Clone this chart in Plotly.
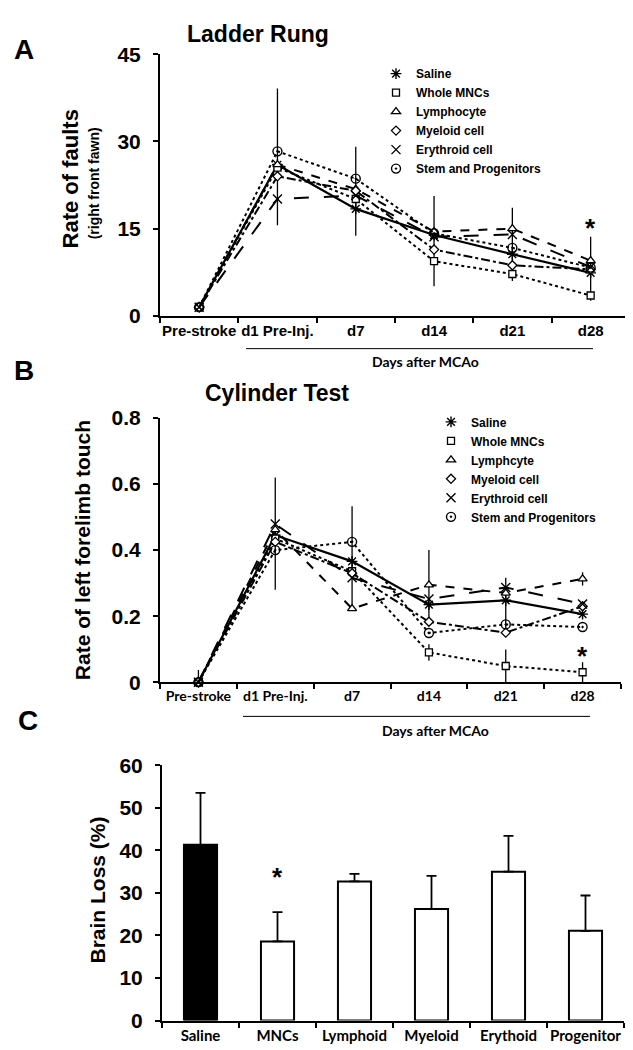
import plotly.graph_objects as go

# ---------------- data ----------------
categories = ["Pre-stroke", "d1 Pre-Inj.", "d7", "d14", "d21", "d28"]

names_A = ["Saline", "Whole MNCs", "Lymphocyte", "Myeloid cell", "Erythroid cell", "Stem and Progenitors"]
names_B = ["Saline", "Whole MNCs", "Lymphcyte", "Myeloid cell", "Erythroid cell", "Stem and Progenitors"]

saline_A = [1.5, 26.0, 18.4, 13.9, 10.6, 7.4]
mncs_A = [1.5, 25.5, 20.1, 9.4, 7.2, 3.5]
lymph_A = [1.5, 26.0, 21.8, 14.5, 15.0, 9.5]
myeloid_A = [1.5, 24.0, 21.5, 11.4, 8.7, 8.0]
erythroid_A = [1.5, 20.1, 20.7, 13.6, 14.0, 8.4]
stem_A = [1.5, 28.3, 23.6, 14.2, 11.7, 8.3]
err_A_plus = [0, 13.1, 10.7, 6.7, 8.0, 6.2]
err_A_minus = [0, 10.4, 4.6, 8.8, 4.6, 4.8]

saline_B = [0, 0.445, 0.366, 0.235, 0.248, 0.206]
mncs_B = [0, 0.435, 0.336, 0.090, 0.049, 0.030]
lymph_B = [0, 0.462, 0.223, 0.295, 0.270, 0.313]
myeloid_B = [0, 0.425, 0.330, 0.183, 0.150, 0.230]
erythroid_B = [0, 0.479, 0.316, 0.252, 0.287, 0.237]
stem_B = [0, 0.400, 0.425, 0.149, 0.175, 0.167]
err_B_plus = [0.037, 0.175, 0.167, 0.165, 0.068, 0.0]
err_B_minus = [0, 0.165, 0.142, 0.065, 0.109, 0.0]
err_B_mncs = [0, 0, 0, 0.025, 0.05, 0.03]
err_B_lymph = [0, 0, 0, 0, 0, 0.02]

groups_C = ["Saline", "MNCs", "Lymphoid", "Myeloid", "Erythoid", "Progenitor"]
loss_C = [41.3, 18.6, 32.7, 26.2, 35.0, 21.1]
err_C = [12.2, 6.9, 1.8, 7.8, 8.4, 8.3]

star_A = 16.2
star_B = 0.096
star_C = 35.2

# ---------------- styles ----------------
W, H = 633, 1050
FONT = "Liberation Sans"
CAL = "Lato"

def px_x(v):
    return v / W

def px_y(v):
    return 1 - v / H

styles = [
    dict(sym="asterisk", dash="solid", w=2.2, size=9, fill="black"),
    dict(sym="square", dash="dot", w=2.0, size=7, fill="white"),
    dict(sym="triangle-up", dash="dash", w=2.0, size=8, fill="white"),
    dict(sym="diamond", dash="dashdot", w=2.0, size=7, fill="white"),
    dict(sym="x-thin", dash="longdash", w=2.0, size=9, fill="black"),
    dict(sym="circle-open-dot", dash="dot", w=2.0, size=9, fill="black"),
]

def marker_for(st):
    if st["fill"] == "white":
        return dict(symbol=st["sym"], size=st["size"], color="white",
                    line=dict(color="black", width=1.3))
    return dict(symbol=st["sym"], size=st["size"], color="black",
                line=dict(color="black", width=1.4))

fig = go.Figure()

# ---------------- panel A ----------------
series_A = [saline_A, mncs_A, lymph_A, myeloid_A, erythroid_A, stem_A]
for i, (nm, vals, st) in enumerate(zip(names_A, series_A, styles)):
    err = None
    if i == 0:
        err = dict(type="data", array=err_A_plus, arrayminus=err_A_minus,
                   color="black", thickness=1.3, width=0)
    fig.add_trace(go.Scatter(
        x=categories, y=vals, name=nm, mode="lines+markers",
        line=dict(color="black", width=st["w"], dash=st["dash"]),
        marker=marker_for(st), error_y=err, cliponaxis=False,
        xaxis="x", yaxis="y", showlegend=False))
for nm, st in zip(names_A, styles):
    fig.add_trace(go.Scatter(
        x=[None], y=[None], name=nm, mode="markers", marker=marker_for(st),
        xaxis="x", yaxis="y", legend="legend", showlegend=True))

# ---------------- panel B ----------------
series_B = [saline_B, mncs_B, lymph_B, myeloid_B, erythroid_B, stem_B]
for i, (nm, vals, st) in enumerate(zip(names_B, series_B, styles)):
    err = None
    if i == 0:
        err = dict(type="data", array=err_B_plus, arrayminus=err_B_minus,
                   color="black", thickness=1.3, width=0)
    elif i == 1:
        err = dict(type="data", array=err_B_mncs, color="black", thickness=1.3, width=0)
    elif i == 2:
        err = dict(type="data", array=err_B_lymph, color="black", thickness=1.3, width=0)
    fig.add_trace(go.Scatter(
        x=categories, y=vals, name=nm, mode="lines+markers",
        line=dict(color="black", width=st["w"], dash=st["dash"]),
        marker=marker_for(st), error_y=err, cliponaxis=False,
        xaxis="x2", yaxis="y2", showlegend=False))
for nm, st in zip(names_B, styles):
    fig.add_trace(go.Scatter(
        x=[None], y=[None], name=nm, mode="markers", marker=marker_for(st),
        xaxis="x2", yaxis="y2", legend="legend2", showlegend=True))

# ---------------- panel C ----------------
bar_colors = ["black"] + ["white"] * (len(groups_C) - 1)
fig.add_trace(go.Bar(
    x=groups_C, y=loss_C, width=0.43,
    marker=dict(color=bar_colors, line=dict(color="black", width=2)),
    error_y=dict(type="data", array=err_C, arrayminus=[0] * len(err_C),
                 color="black", thickness=1.8, width=5),
    xaxis="x3", yaxis="y3", showlegend=False, name="Brain Loss"))

# ---------------- layout ----------------
bold = "bold"
xcommon = dict(type="category", categoryorder="array", categoryarray=categories,
               tickson="boundaries", ticks="outside", ticklen=5, tickwidth=1.5,
               tickcolor="black", showline=True, linecolor="black", linewidth=2,
               showgrid=False, zeroline=False, tickangle=0)
ycommon = dict(ticks="outside", ticklen=5, tickwidth=1.5, tickcolor="black",
               showline=True, linecolor="black", linewidth=2, showgrid=False,
               zeroline=False, ticklabelstandoff=8,
               tickfont=dict(family=FONT, size=21, color="black", weight=bold))

fig.update_layout(
    width=W, height=H, margin=dict(l=0, r=0, t=0, b=0),
    paper_bgcolor="white", plot_bgcolor="white",
    font=dict(family=FONT, color="black"),
    xaxis=dict(**xcommon, domain=[px_x(152), 1.0], range=[-0.5, 5.643], anchor="y",
               tickfont=dict(family=FONT, size=15, color="black", weight=bold)),
    yaxis=dict(**ycommon, domain=[px_y(302.5), px_y(35)], range=[0, 45],
               tickvals=[0, 15, 30, 45], anchor="x"),
    xaxis2=dict(**xcommon, domain=[px_x(152), px_x(613)], range=[-0.5, 5.5], anchor="y2",
                tickfont=dict(family=CAL, size=14, color="black", weight=bold)),
    yaxis2=dict(**ycommon, domain=[px_y(677), px_y(407)], range=[0, 0.8],
                tickvals=[0, 0.2, 0.4, 0.6, 0.8], ticktext=["0", "0.2", "0.4", "0.6", "0.8"],
                anchor="x2"),
    xaxis3=dict(type="category", tickson="boundaries", ticks="outside", ticklen=5,
                tickwidth=1.5, tickcolor="black", showline=True, linecolor="black",
                linewidth=2, showgrid=False, zeroline=False, anchor="y3", tickangle=0,
                domain=[px_x(154), px_x(616)], range=[-0.5, 5.5],
                tickfont=dict(family=CAL, size=15, color="black", weight=bold)),
    yaxis3=dict(**ycommon, domain=[px_y(1023), px_y(762)], range=[0, 60],
                dtick=10, anchor="x3"),
    legend=dict(x=px_x(368), y=px_y(40), xanchor="left", yanchor="top",
                font=dict(family=FONT, size=12, color="black", weight=bold),
                itemwidth=30, bgcolor="rgba(0,0,0,0)", borderwidth=0),
    legend2=dict(x=px_x(423), y=px_y(396), xanchor="left", yanchor="top",
                 font=dict(family=FONT, size=12, color="black", weight=bold),
                 itemwidth=30, bgcolor="rgba(0,0,0,0)", borderwidth=0),
)

def ann(text, x, y, size, family=FONT, angle=0, xanchor="center", yanchor="middle"):
    fig.add_annotation(text=text, x=px_x(x), y=px_y(y), xref="paper", yref="paper",
                       showarrow=False, textangle=angle, xanchor=xanchor, yanchor=yanchor,
                       font=dict(family=family, size=size, color="black", weight=bold))

ann("A", 16, 30, 28)
ann("B", 16, 358, 28)
ann("C", 20, 716, 28)
ann("Ladder Rung", 177, 14, 23, xanchor="left")
ann("Cylinder Test", 195, 381, 23, xanchor="left")
ann("Rate of faults", 62, 163, 22, angle=-90)
ann("(right front fawn)", 86, 167, 14, angle=-90)
ann("Rate of left forelimb touch", 74, 542, 21, angle=-90)
ann("Brain Loss (%)", 90, 890, 21, angle=-90)
ann("Days after MCAo", 417, 349, 14, family=CAL)
ann("Days after MCAo", 427, 726, 14, family=CAL)

# significance asterisks (data coordinates)
for xr, yr, cat, val in [("x", "y", "d28", star_A), ("x2", "y2", "d28", star_B), ("x3", "y3", "MNCs", star_C)]:
    fig.add_annotation(text="*", x=cat, y=val, xref=xr, yref=yr, showarrow=False,
                       yanchor="middle", yshift=-6,
                       font=dict(family=FONT, size=26, color="black", weight=bold))

# lines under the day labels
for y0, xa, xb in [(336, 238, 585), (712, 235, 582)]:
    fig.add_shape(type="line", xref="paper", yref="paper", x0=px_x(xa), x1=px_x(xb),
                  y0=px_y(y0), y1=px_y(y0), line=dict(color="black", width=1))

fig.write_html("out.html")
